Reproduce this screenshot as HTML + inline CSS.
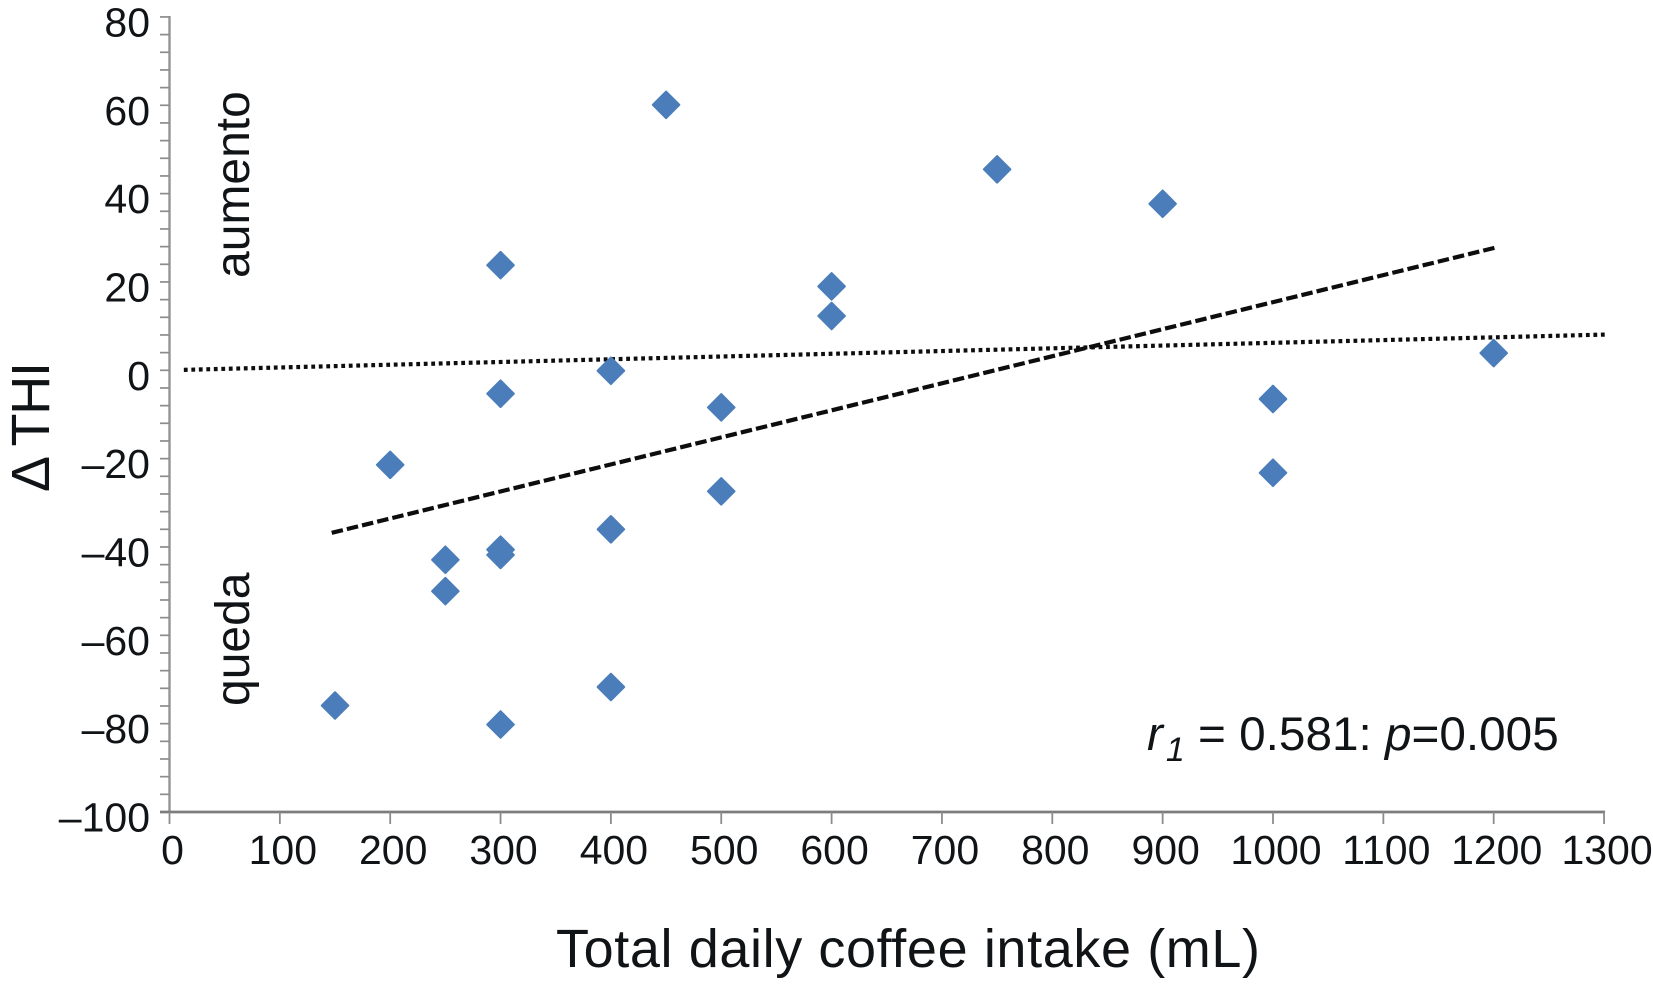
<!DOCTYPE html>
<html lang="en">
<head>
<meta charset="utf-8">
<title>Change in THI vs total daily coffee intake</title>
<style>
  html, body { margin: 0; padding: 0; background: #fff; }
  svg { display: block; font-family: "Liberation Sans", Arial, sans-serif; fill: #111417; }
  .tick-label { font-size: 41px; }
</style>
</head>
<body>
<svg id="chart" width="1653" height="993" viewBox="0 0 1653 993" xmlns="http://www.w3.org/2000/svg">
  <rect x="0" y="0" width="1653" height="993" fill="#ffffff"></rect>
  <g id="y-axis"></g>
  <g id="x-axis"></g>
  <g id="trend-lines"></g>
  <g id="points"></g>

  <text transform="translate(49,427) rotate(-90)" text-anchor="middle" font-size="54" textLength="130" lengthAdjust="spacing">Δ THI</text>
  <text transform="translate(249,278) rotate(-90)" font-size="48">aumento</text>
  <text transform="translate(249,706) rotate(-90)" font-size="48">queda</text>
  <text x="556" y="967" font-size="54" textLength="704" lengthAdjust="spacing">Total daily coffee intake (mL)</text>
  <text x="1147" y="750" font-size="47.7"><tspan font-style="italic">r</tspan><tspan font-style="italic" font-size="34" dy="11" dx="3">1</tspan><tspan dy="-11"> = 0.581: </tspan><tspan font-style="italic">p</tspan><tspan>=0.005</tspan></text>
</svg>

<script>
const pointIntake = [150, 200, 250, 250, 300, 300, 300, 300, 300, 400, 400, 400, 450, 500, 500, 600, 600, 750, 900, 1000, 1000, 1200];
const pointDeltaThi = [-75.9, -21.4, -42.9, -50, -80.2, -40.6, -41.8, -5.3, 23.8, -71.7, -36, -0.1, 60.1, -8.4, -27.4, 19, 12.3, 45.5, 37.7, -6.5, -23.2, 3.9];
const dashedLineIntake = [147, 1202];
const dashedLineDelta = [-36.8, 27.8];
const dottedLineIntake = [13, 1303];
const dottedLineDelta = [0.1, 8.1];
const xTickValues = [0, 100, 200, 300, 400, 500, 600, 700, 800, 900, 1000, 1100, 1200, 1300];
const xTickLabels = ['0', '100', '200', '300', '400', '500', '600', '700', '800', '900', '1000', '1100', '1200', '1300'];
const yTickValues = [80, 60, 40, 20, 0, -20, -40, -60, -80, -100];
const yTickLabels = ['80', '60', '40', '20', '0', '–20', '–40', '–60', '–80', '–100'];
const yMinorStep = [4];

const NS = 'http://www.w3.org/2000/svg';
function xScale(v) { return 169.5 + v * 1.1035; }
function yScale(v) { return 370.3 - v * 4.417; }
function make(tag, parent, attrs) {
  const el = document.createElementNS(NS, tag);
  for (const k in attrs) el.setAttribute(k, attrs[k]);
  parent.appendChild(el);
  return el;
}

const yAxis = document.getElementById('y-axis');
const xAxis = document.getElementById('x-axis');
const trend = document.getElementById('trend-lines');
const pts = document.getElementById('points');

const yTop = yScale(Math.max.apply(null, yTickValues));
const yBottom = yScale(Math.min.apply(null, yTickValues));
const xLeft = xScale(0);
const xRight = xScale(Math.max.apply(null, xTickValues));

const yLine = make('line', yAxis, { x1: xLeft, x2: xLeft, y1: yTop - 1, y2: yBottom, stroke: '#959595', 'stroke-width': 2.4 });



for (let v = Math.min.apply(null, yTickValues); v <= Math.max.apply(null, yTickValues); v += yMinorStep[0]) {
  const t = make('line', yAxis, { x1: 160, x2: xLeft, y1: yScale(v), y2: yScale(v), stroke: '#8c8c8c', 'stroke-width': 1.7 });
  
  
}
yTickValues.forEach(function (v, i) {
  const l = make('text', yAxis, { x: 150, y: yScale(v) + 19.5, 'text-anchor': 'end', class: 'tick-label' });
  l.textContent = yTickLabels[i];
  
  
});

const xLine = make('line', xAxis, { x1: 160, x2: xRight + 1, y1: yBottom, y2: yBottom, stroke: '#7d7d7d', 'stroke-width': 2.8 });



xTickValues.forEach(function (v, i) {
  const t = make('line', xAxis, { x1: xScale(v), x2: xScale(v), y1: yBottom, y2: yBottom + 12, stroke: '#8c8c8c', 'stroke-width': 1.8 });
  
  
  const l = make('text', xAxis, { x: xScale(v) + 3, y: 864, 'text-anchor': 'middle', class: 'tick-label' });
  l.textContent = xTickLabels[i];
  
  
});

const dotted = make('line', trend, {
  x1: xScale(dottedLineIntake[0]), y1: yScale(dottedLineDelta[0]),
  x2: xScale(dottedLineIntake[1]), y2: yScale(dottedLineDelta[1]),
  stroke: '#0d0d0d', 'stroke-width': 4.2, 'stroke-dasharray': '3.8 3.7'
});



const dashed = make('line', trend, {
  x1: xScale(dashedLineIntake[0]), y1: yScale(dashedLineDelta[0]),
  x2: xScale(dashedLineIntake[1]), y2: yScale(dashedLineDelta[1]),
  stroke: '#0d0d0d', 'stroke-width': 4.2, 'stroke-dasharray': '11.5 4.1'
});



pointIntake.forEach(function (v, i) {
  const cx = xScale(v);
  const cy = yScale(pointDeltaThi[i]);
  const r = 13.3;
  const d = make('polygon', pts, {
    points: [cx, cy - r, cx + r, cy, cx, cy + r, cx - r, cy].join(' '),
    fill: '#4a7db9', stroke: '#4a7db9', 'stroke-width': 2, 'stroke-linejoin': 'round'
  });
  
  
});
</script>
</body>
</html>
